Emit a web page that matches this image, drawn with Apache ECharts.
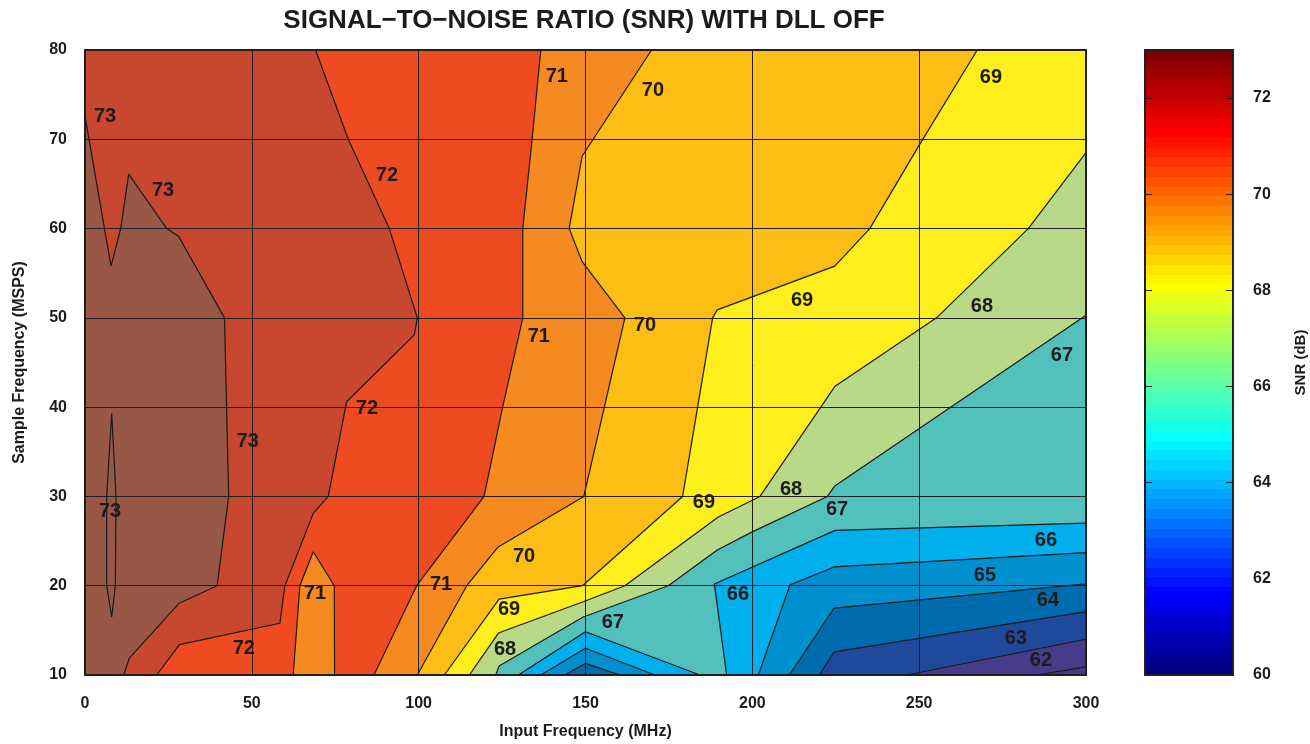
<!DOCTYPE html>
<html>
<head>
<meta charset="utf-8">
<script src="https://cdn.jsdelivr.net/npm/echarts@6/dist/echarts.min.js"></script>
<style>
  html, body { margin: 0; padding: 0; background: #ffffff; }
  #chart { width: 1310px; height: 744px; }
</style>
</head>
<body>
<div id="chart"></div>
<script>
// ---- Axis extents ----
const inputFreqRange = [0, 300];   // MHz
const sampleFreqRange = [10, 80];  // MSPS
const snrScaleRange = [60, 73];    // dB (colour bar)

// ---- Contour lines, [input MHz, sample MSPS] ----
// Every open line runs from plot edge to plot edge with the higher SNR on its left-hand side.
const c61  = [[285.2,10],[300,10.9]];
const c62  = [[246.2,10],[300,14.0]];
const c63  = [[220.1,10],[224.5,12.6],[300,17.1]];
const c64a = [[211.1,10],[224.5,17.5],[300,20.2]];
const c64b = [[143.8,10],[150,11.3],[160.3,10]];
const c65a = [[201.8,10],[211.3,20.1],[224.5,22.1],[300,23.7]];
const c65b = [[136.6,10],[150,13.0],[170.8,10]];
const c66a = [[192.3,10],[188.6,20.2],[224.8,26.2],[300,27.0]];
const c66b = [[129.9,10],[150,14.85],[184.3,10]];
const c67  = [[123.1,10],[124.1,11.0],[149.3,16.5],[174.8,20],[189.5,24.0],[199.8,26.0],[222.5,30],[224.8,31.2],[300,50.3]];
const c68  = [[115.2,10],[123.9,14.7],[149.3,18.2],[161.8,20],[189.8,27.7],[202.3,30],[224.7,42.3],[255.2,50],[282.7,60],[300,68.5]];
const c69  = [[107.7,10],[124.1,18.5],[149.1,20],[179.1,30],[188.1,50],[189.5,50.9],[224.7,55.8],[235.2,60],[249.8,69.2],[267.4,80]];
const c70  = [[99.6,10],[114.4,20],[123.7,24.3],[149.5,30],[161.8,50],[149.0,56.3],[145.1,60],[149.0,68.1],[152.3,70],[169.8,80]];
const c71a = [[86.6,10],[99.4,20],[119.6,30],[125.1,39.9],[131.2,50],[131.2,60],[134.0,70],[136.6,80]];
const c71b = [[62.4,10],[64.4,20],[68.4,23.8],[74.7,20],[74.8,10]];
const c72  = [[21.5,10],[28.3,13.4],[58.4,15.8],[59.9,20],[68.4,28.1],[72.9,30],[78.4,40.6],[98.7,48.1],[99.6,50],[91.2,60],[78.9,70],[69.1,80]];
const c73  = [[11.6,10],[13.3,11.9],[28.1,18],[39.6,20],[43.05,30],[41.8,50],[28.1,59.1],[24.5,60],[13.1,66.1],[10.7,60],[7.8,55.8],[0,72.6]];
// closed ring (counter-clockwise)
const c73loop = [[8.0,39.3],[6.5,30],[6.5,20],[8.0,16.5],[9.1,20],[9.3,30]];

const contourLevels = [61, 62, 63, 64, 65, 66, 67, 68, 69, 70, 71, 72, 73];
const contourOpen = {
  61: [c61], 62: [c62], 63: [c63], 64: [c64a, c64b], 65: [c65a, c65b], 66: [c66a, c66b],
  67: [c67], 68: [c68], 69: [c69], 70: [c70], 71: [c71a, c71b], 72: [c72], 73: [c73]
};
const contourClosed = { 73: [c73loop] };

// Level labels: [input MHz, sample MSPS, level]
const contourLabels = [
  [6.0,72.5,73],[23.4,64.3,73],[48.8,36.2,73],[7.5,28.3,73],
  [90.5,66.0,72],[84.5,39.9,72],[47.6,13.0,72],
  [141.4,77.0,71],[136.0,47.9,71],[106.7,20.1,71],[68.9,19.1,71],
  [170.2,75.5,70],[167.8,49.2,70],[131.6,23.3,70],
  [271.5,76.9,69],[214.9,52.0,69],[185.5,29.3,69],[127.1,17.3,69],
  [268.8,51.3,68],[211.6,30.8,68],[125.9,12.9,68],
  [292.8,45.8,67],[225.4,28.5,67],[158.2,15.9,67],
  [288.0,25.1,66],[195.7,19.0,66],
  [269.7,21.1,65],[288.6,18.3,64],[279.0,14.1,63],[286.5,11.6,62]
];

// ---- Styling ----
const FONT = "'Liberation Sans', Arial, Helvetica, sans-serif";
const TEXT = '#1f1b1c';
const fillBelowLowest = '#44398A';
const fillAbove = {
  61: '#463C8A', 62: '#1F4A9B', 63: '#006CB0', 64: '#0090D0', 65: '#00B0EC', 66: '#52C1BC',
  67: '#B8DA88', 68: '#FEEE1B', 69: '#FCBE15', 70: '#F58A20', 71: '#EE4B23',
  72: '#C8472F', 73: '#985845'
};

// ---- Region building: close each level's lines along the plot frame (counter-clockwise) ----
const [X0, X1] = inputFreqRange, [Y0, Y1] = sampleFreqRange;
const W = X1 - X0, H = Y1 - Y0, PER = 2 * (W + H), EPS = 1e-6;
const frameCorners = [
  { t: W, p: [X1, Y0] }, { t: W + H, p: [X1, Y1] },
  { t: 2 * W + H, p: [X0, Y1] }, { t: 0, p: [X0, Y0] }
];
function perimPos(p) {
  const [x, y] = p;
  if (Math.abs(y - Y0) < EPS) return x - X0;
  if (Math.abs(x - X1) < EPS) return W + (y - Y0);
  if (Math.abs(y - Y1) < EPS) return W + H + (X1 - x);
  return 2 * W + H + (Y1 - y);
}
const modP = v => ((v % PER) + PER) % PER;

function regionRings(level) {
  const lines = contourOpen[level] || [];
  const used = lines.map(() => false);
  const rings = [];
  for (let s = 0; s < lines.length; s++) {
    if (used[s]) continue;
    const ring = [];
    let cur = s;
    for (let guard = 0; guard < 50; guard++) {
      used[cur] = true;
      const pts = lines[cur];
      ring.push(...pts);
      const tEnd = perimPos(pts[pts.length - 1]);
      let best = -1, bestD = Infinity;
      lines.forEach((ln, j) => {
        const d = modP(perimPos(ln[0]) - tEnd);
        if (d < bestD) { bestD = d; best = j; }
      });
      frameCorners
        .map(c => ({ d: modP(c.t - tEnd), p: c.p }))
        .filter(c => c.d > EPS && c.d < bestD - EPS)
        .sort((a, b) => a.d - b.d)
        .forEach(c => ring.push(c.p));
      if (best === s) break;
      cur = best;
    }
    rings.push(ring);
  }
  (contourClosed[level] || []).forEach(r => rings.push(r));
  return rings;
}

// fill layers, lowest first
const fillLayers = [{ level: null, color: fillBelowLowest, rings: [[[X0, Y0], [X1, Y0], [X1, Y1], [X0, Y1]]] }]
  .concat(contourLevels.map(l => ({ level: l, color: fillAbove[l], rings: regionRings(l) })));

// ---- Jet colour map for the colour bar ----
function jet(t) {
  const c = v => Math.round(255 * Math.min(1, Math.max(0, v)));
  return 'rgb(' + c(1.5 - Math.abs(4 * t - 3)) + ',' + c(1.5 - Math.abs(4 * t - 2)) + ',' + c(1.5 - Math.abs(4 * t - 1)) + ')';
}
const JET_STEPS = 64;
const jetStops = [];
for (let k = JET_STEPS - 1; k >= 0; k--) {
  const col = jet(k / (JET_STEPS - 1));
  jetStops.push({ offset: 1 - (k + 1) / JET_STEPS, color: col });
  jetStops.push({ offset: 1 - k / JET_STEPS, color: col });
}

// ---- Chart ----
const chart = echarts.init(document.getElementById('chart'), null, { renderer: 'canvas' });

const boldText = (size) => ({ fontFamily: FONT, fontWeight: 'bold', fontSize: size, color: TEXT });

const lineSeries = [];
contourLevels.forEach(l => {
  (contourOpen[l] || []).forEach(pts => lineSeries.push(pts));
  (contourClosed[l] || []).forEach(r => lineSeries.push(r.concat([r[0]])));
});

const frameLine = { show: true, onZero: false, lineStyle: { color: '#231f20', width: 2 } };

const option = {
  animation: false,
  backgroundColor: '#ffffff',
  graphic: [{
    type: 'text', x: 584, y: 21,
    style: {
      text: 'SIGNAL\u2212TO\u2212NOISE RATIO (SNR) WITH DLL OFF',
      font: 'bold 26px ' + FONT, fill: TEXT, textAlign: 'center', textVerticalAlign: 'middle'
    }
  }],
  grid: [
    { left: 85, right: 224, top: 50, bottom: 69, outerBoundsMode: 'none', containLabel: false },
    { left: 1145, right: 77, top: 50, bottom: 69, outerBoundsMode: 'none', containLabel: false }
  ],
  xAxis: [
    {
      gridIndex: 0, type: 'value', min: inputFreqRange[0], max: inputFreqRange[1], interval: 50, z: 3,
      name: 'Input Frequency (MHz)', nameLocation: 'middle', nameGap: 49, nameTextStyle: boldText(16),
      axisLine: frameLine, axisTick: { show: false },
      axisLabel: Object.assign(boldText(16), { margin: 21 }),
      splitLine: { show: true, lineStyle: { color: '#231f20', width: 1 } }
    },
    {
      gridIndex: 0, type: 'value', position: 'top', min: inputFreqRange[0], max: inputFreqRange[1], z: 3,
      axisLine: frameLine, axisTick: { show: false }, axisLabel: { show: false }, splitLine: { show: false }
    },
    {
      gridIndex: 1, type: 'value', min: 0, max: 1, z: 3,
      axisLine: frameLine, axisTick: { show: false }, axisLabel: { show: false }, splitLine: { show: false }
    },
    {
      gridIndex: 1, type: 'value', position: 'top', min: 0, max: 1, z: 3,
      axisLine: frameLine, axisTick: { show: false }, axisLabel: { show: false }, splitLine: { show: false }
    }
  ],
  yAxis: [
    {
      gridIndex: 0, type: 'value', min: sampleFreqRange[0], max: sampleFreqRange[1], interval: 10, z: 3,
      name: 'Sample Frequency (MSPS)', nameLocation: 'middle', nameGap: 57, nameRotate: 90, nameTextStyle: boldText(16),
      axisLine: frameLine, axisTick: { show: false },
      axisLabel: Object.assign(boldText(16), { margin: 18 }),
      splitLine: { show: true, lineStyle: { color: '#231f20', width: 1 } }
    },
    {
      gridIndex: 0, type: 'value', position: 'right', min: sampleFreqRange[0], max: sampleFreqRange[1], z: 3,
      axisLine: frameLine, axisTick: { show: false }, axisLabel: { show: false }, splitLine: { show: false }
    },
    {
      gridIndex: 1, type: 'value', position: 'right', min: snrScaleRange[0], max: snrScaleRange[1], interval: 2, z: 3,
      name: 'SNR (dB)', nameLocation: 'middle', nameGap: 60, nameRotate: 90, nameTextStyle: boldText(15),
      axisLine: frameLine,
      axisTick: { show: true, inside: true, length: 7, lineStyle: { color: '#231f20', width: 1 } },
      axisLabel: Object.assign(boldText(16), { margin: 20, showMaxLabel: false }),
      splitLine: { show: false }
    },
    {
      gridIndex: 1, type: 'value', position: 'left', min: snrScaleRange[0], max: snrScaleRange[1], interval: 2, z: 3,
      axisLine: frameLine,
      axisTick: { show: true, inside: true, length: 7, lineStyle: { color: '#231f20', width: 1 } },
      axisLabel: { show: false }, splitLine: { show: false }
    }
  ],
  series: [
    {
      // filled contour bands
      type: 'custom', xAxisIndex: 0, yAxisIndex: 0, z: 1, silent: true,
      data: fillLayers.map((f, i) => [X0, Y0, i]),
      renderItem: function (params, api) {
        const layer = fillLayers[params.dataIndex];
        return {
          type: 'group',
          children: layer.rings.map(r => ({
            type: 'polygon',
            shape: { points: r.map(p => api.coord(p)) },
            style: { fill: layer.color, stroke: null }
          }))
        };
      }
    },
    {
      // colour bar
      type: 'custom', xAxisIndex: 2, yAxisIndex: 2, z: 1, silent: true,
      data: [[0, snrScaleRange[0], 1, snrScaleRange[1]]],
      renderItem: function (params, api) {
        const tl = api.coord([api.value(0), api.value(3)]);
        const br = api.coord([api.value(2), api.value(1)]);
        return {
          type: 'rect',
          shape: { x: tl[0], y: tl[1], width: br[0] - tl[0], height: br[1] - tl[1] },
          style: { fill: new echarts.graphic.LinearGradient(0, 0, 0, 1, jetStops) }
        };
      }
    }
  ].concat(lineSeries.map(pts => ({
    type: 'line', xAxisIndex: 0, yAxisIndex: 0, z: 4, silent: true,
    data: pts, showSymbol: false, symbol: 'none',
    lineStyle: { color: '#1a1a1a', width: 1.2 }
  }))).concat([{
    type: 'scatter', xAxisIndex: 0, yAxisIndex: 0, z: 5, silent: true,
    symbolSize: 0, data: contourLabels,
    label: {
      show: true, position: 'inside', formatter: p => String(p.value[2]),
      fontFamily: FONT, fontWeight: 'bold', fontSize: 20, color: TEXT, opacity: 1
    },
    emphasis: { disabled: true }
  }])
};

chart.setOption(option);
</script>
</body>
</html>
